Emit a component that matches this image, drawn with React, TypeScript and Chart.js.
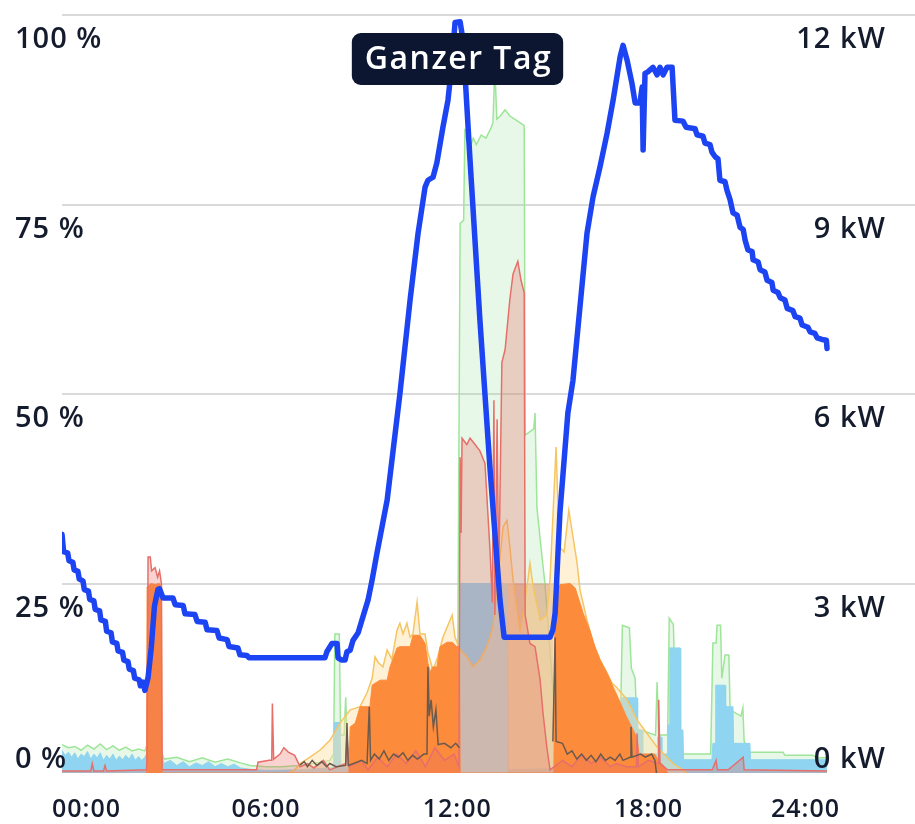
import React, { useEffect, useRef } from "react";
import { Chart, registerables } from "chart.js";

Chart.register(...registerables);

// ---- axis / label data ----
const yPercentTicks = [0, 25, 50, 75, 100];
const yPowerTicks = [0, 3, 6, 9, 12];
const xTickHours = [0, 6, 12, 18, 24];
const xTickLabels = ["00:00", "06:00", "12:00", "18:00", "24:00"];
const badgeText = "Ganzer Tag";
const xMinHour = -0.4;
const xMaxHour = 26.36;
const dataEndHour = 23.6;

// ---- battery state of charge (%) ----
const socHours = [
  -0.40, -0.35, -0.22, -0.18, -0.06, -0.02, 0.10, 0.14, 0.26, 0.30,
  0.43, 0.47, 0.60, 0.64, 0.78, 0.82, 0.96, 1.00, 1.14, 1.18,
  1.32, 1.36, 1.50, 1.54, 1.67, 1.71, 1.84, 1.88, 2.02, 2.06,
  2.14, 2.20, 2.30, 2.40, 2.50, 2.61, 2.66, 2.77, 3.08, 3.15,
  3.40, 3.46, 3.77, 3.84, 4.09, 4.15, 4.46, 4.53, 4.78, 4.84,
  5.12, 5.18, 5.40, 5.47, 7.85, 7.91, 8.07, 8.23, 8.26, 8.38,
  8.48, 8.54, 8.64, 8.73, 8.89, 9.04, 9.20, 9.33, 9.48, 9.64,
  9.80, 10.00, 10.20, 10.52, 10.77, 10.99, 11.08, 11.24, 11.36, 11.55,
  11.71, 11.84, 11.93, 12.09, 12.18, 12.40, 12.71, 13.03, 13.34, 13.47,
  14.91, 15.00, 15.07, 15.22, 15.47, 15.63, 16.07, 16.26, 16.48, 16.70,
  16.89, 17.11, 17.20, 17.33, 17.48, 17.58, 17.73, 17.80, 17.83, 17.89,
  17.98, 18.14, 18.27, 18.36, 18.46, 18.58, 18.74, 18.83, 19.08, 19.18,
  19.46, 19.52, 19.71, 19.77, 19.93, 19.99, 20.09, 20.18, 20.24, 20.40,
  20.46, 20.56, 20.65, 20.78, 20.87, 20.97, 21.03, 21.12, 21.25, 21.28,
  21.44, 21.50, 21.65, 21.72, 21.87, 21.91, 22.06, 22.13, 22.28, 22.35,
  22.53, 22.60, 22.75, 22.82, 23.00, 23.07, 23.22, 23.29, 23.44, 23.58,
  23.60,
];
const socValues = [
  31.5, 29.2, 29.0, 28.0, 27.8, 26.8, 26.6, 25.6, 25.3, 24.2,
  24.0, 22.9, 22.7, 21.6, 21.4, 20.2, 20.0, 18.7, 18.5, 17.3,
  17.1, 16.1, 15.9, 14.9, 14.7, 13.7, 13.5, 12.5, 12.3, 11.5,
  12.0, 10.9, 12.6, 16.5, 22.0, 24.2, 24.3, 23.1, 23.1, 22.2,
  22.1, 21.0, 20.9, 20.0, 19.9, 18.9, 18.8, 17.8, 17.6, 16.7,
  16.5, 15.6, 15.5, 15.2, 15.2, 16.0, 17.1, 17.1, 15.2, 14.9,
  14.9, 16.0, 16.2, 17.5, 18.5, 20.6, 22.8, 25.5, 29.0, 32.5,
  36.0, 43.0, 50.0, 62.4, 71.2, 77.3, 78.2, 78.6, 80.5, 85.2,
  88.8, 94.0, 99.0, 99.1, 96.7, 80.9, 59.8, 40.0, 22.8, 17.9,
  17.9, 18.9, 21.1, 34.3, 47.5, 51.8, 71.2, 76.0, 80.0, 84.4,
  88.8, 94.5, 96.0, 94.0, 91.0, 88.4, 88.4, 90.5, 82.2, 92.3,
  92.5, 93.1, 92.1, 93.1, 92.1, 93.1, 93.1, 86.1, 86.0, 85.2,
  85.0, 84.2, 84.0, 83.1, 82.9, 81.9, 81.3, 81.0, 78.2, 78.0,
  76.9, 75.6, 73.9, 73.6, 72.0, 71.7, 70.3, 69.0, 68.8, 67.7,
  67.4, 66.4, 66.1, 65.0, 64.7, 63.7, 63.4, 62.7, 62.4, 61.3,
  61.0, 60.2, 60.0, 59.1, 58.8, 58.2, 58.0, 57.4, 57.2, 57.1,
  56.0,
];

// ---- green series (kW) ----
const greenHours = [
  -0.40, -0.20, 0.00, 0.20, 0.40, 0.60, 0.80, 1.00, 1.20, 1.40,
  1.60, 1.80, 2.00, 2.20, 2.30, 2.67, 2.80, 3.20, 3.60, 4.00,
  4.40, 4.80, 5.20, 5.50, 6.00, 6.50, 7.00, 7.50, 8.00, 8.12,
  8.16, 8.30, 8.34, 8.45, 8.50, 8.55, 9.00, 10.00, 11.00, 11.20,
  11.24, 11.30, 11.34, 12.00, 12.09, 12.20, 12.24, 12.30, 12.40, 12.50,
  12.60, 12.75, 12.90, 13.05, 13.12, 13.16, 13.20, 13.24, 13.35, 13.50,
  13.65, 13.80, 13.95, 14.10, 14.13, 14.40, 14.44, 14.50, 14.60, 14.75,
  14.90, 15.10, 15.30, 16.50, 17.10, 17.18, 17.40, 17.46, 17.58, 17.64,
  18.22, 18.27, 18.32, 18.60, 18.65, 18.78, 18.84, 18.95, 19.05, 19.95,
  20.02, 20.12, 20.15, 20.26, 20.30, 20.40, 20.52, 20.56, 20.90, 20.96,
  21.00, 21.18, 22.22, 22.28, 23.16, 23.29, 23.60,
];
const greenValues = [
  0.45, 0.40, 0.42, 0.36, 0.44, 0.38, 0.46, 0.37, 0.43, 0.36,
  0.41, 0.35, 0.38, 0.35, 0.50, 0.40, 0.22, 0.25, 0.18, 0.24,
  0.17, 0.22, 0.16, 0.12, 0.10, 0.10, 0.12, 0.15, 0.20, 0.30,
  2.20, 2.20, 0.60, 0.60, 1.20, 0.40, 0.30, 0.30, 0.30, 1.70,
  0.50, 1.60, 0.40, 0.30, 8.70, 8.75, 10.20, 10.00, 9.90, 10.05,
  9.95, 10.10, 10.05, 10.20, 10.30, 10.90, 10.90, 10.35, 10.40, 10.50,
  10.40, 10.35, 10.30, 10.25, 5.35, 5.45, 5.70, 4.20, 3.70, 3.00,
  2.00, 0.60, 0.30, 0.30, 0.35, 2.34, 2.30, 1.66, 1.50, 0.70,
  0.60, 1.44, 0.60, 0.60, 2.45, 2.35, 1.20, 0.73, 0.30, 0.30,
  2.06, 2.06, 2.34, 2.34, 1.50, 1.87, 1.87, 1.00, 0.90, 1.03,
  0.50, 0.33, 0.33, 0.28, 0.28, 0.24, 0.24,
];

// ---- light blue series (kW) ----
const blueHours = [
  -0.40, -0.30, -0.20, -0.10, 0.00, 0.10, 0.20, 0.30, 0.40, 0.50,
  0.60, 0.70, 0.80, 0.90, 1.00, 1.10, 1.20, 1.30, 1.40, 1.50,
  1.60, 1.70, 1.80, 1.90, 2.00, 2.10, 2.20, 2.35, 2.50, 2.67,
  2.80, 3.00, 3.20, 3.40, 3.60, 3.80, 4.00, 4.20, 4.40, 4.60,
  4.80, 5.00, 5.20, 5.50, 6.00, 7.00, 8.00, 8.12, 8.14, 8.32,
  8.35, 9.00, 12.05, 12.09, 13.58, 13.60, 17.10, 17.14, 17.64, 17.66,
  17.80, 17.82, 18.27, 18.29, 18.40, 18.42, 18.58, 18.60, 18.65, 18.67,
  18.99, 19.01, 19.08, 19.10, 19.99, 20.02, 20.09, 20.11, 20.40, 20.42,
  20.65, 20.67, 21.18, 21.20, 23.60,
];
const blueValues = [
  0.36, 0.28, 0.33, 0.25, 0.32, 0.22, 0.30, 0.26, 0.34, 0.22,
  0.30, 0.24, 0.32, 0.20, 0.28, 0.22, 0.30, 0.20, 0.27, 0.21,
  0.28, 0.22, 0.30, 0.20, 0.26, 0.20, 0.25, 0.40, 0.30, 0.35,
  0.15, 0.20, 0.12, 0.18, 0.10, 0.16, 0.12, 0.18, 0.10, 0.15,
  0.10, 0.14, 0.08, 0.06, 0.04, 0.05, 0.08, 0.10, 0.80, 0.80,
  0.10, 0.05, 0.05, 3.00, 3.00, 0.05, 0.10, 1.19, 1.19, 0.68,
  0.68, 0.30, 0.30, 0.57, 0.57, 0.30, 0.30, 0.76, 0.76, 1.98,
  1.98, 0.68, 0.68, 0.21, 0.21, 0.47, 0.47, 1.39, 1.39, 1.05,
  1.05, 0.47, 0.47, 0.21, 0.21,
];

// ---- tan block (kW) ----
const tanHours = [13.57, 13.58, 15.02, 15.03];
const tanValues = [0, 3.0, 3.0, 0];

// ---- yellow series (kW) ----
const yellowHours = [
  6.70, 6.90, 7.07, 7.38, 7.69, 8.01, 8.32, 8.64, 8.95, 9.17,
  9.33, 9.42, 9.52, 9.67, 9.80, 9.95, 10.11, 10.20, 10.30, 10.42,
  10.52, 10.61, 10.74, 10.83, 10.99, 11.08, 11.24, 11.39, 11.55, 11.84,
  11.93, 12.09, 12.30, 12.49, 12.71, 12.93, 13.12, 13.34, 13.44, 13.56,
  13.65, 13.75, 13.97, 14.19, 14.28, 14.38, 14.60, 14.81, 14.91, 15.10,
  15.20, 15.35, 15.50, 15.63, 15.76, 15.85, 16.07, 16.26, 16.48, 16.70,
  16.86, 17.01, 17.33, 17.64, 17.95, 18.27, 18.58, 18.77, 19.08, 19.20,
];
const yellowValues = [
  0, 0.05, 0.15, 0.25, 0.36, 0.52, 0.79, 1.00, 1.05, 1.27,
  1.50, 1.84, 1.75, 1.68, 1.95, 1.80, 2.26, 2.37, 2.20, 2.37,
  2.15, 2.20, 2.71, 2.20, 2.20, 1.90, 1.63, 1.84, 2.15, 2.50,
  2.15, 1.95, 1.84, 1.68, 1.79, 2.00, 2.31, 3.42, 3.90, 4.00,
  3.58, 3.06, 2.26, 2.95, 3.32, 2.95, 2.42, 2.50, 3.06, 5.16,
  3.58, 3.50, 4.16, 3.74, 3.32, 2.90, 2.42, 2.06, 1.79, 1.58,
  1.42, 1.35, 1.16, 0.84, 0.63, 0.41, 0.25, 0.15, 0.05, 0,
];

// ---- orange series (kW) ----
const orangeHours = [
  2.25, 2.27, 2.40, 2.52, 2.65, 2.72, 2.74, 8.60, 8.64, 8.80,
  8.95, 9.26, 9.33, 9.42, 9.58, 9.80, 9.89, 10.11, 10.20, 10.52,
  10.61, 10.83, 10.99, 11.08, 11.15, 11.24, 11.36, 11.46, 11.68, 11.84,
  11.99, 12.07, 12.09, 15.03, 15.07, 15.22, 15.54, 15.70, 15.85, 15.95,
  16.16, 16.32, 16.48, 16.70, 16.89, 17.11, 17.30, 17.50, 17.64, 17.70,
  18.20, 18.30, 18.50, 18.60,
];
const orangeValues = [
  0, 2.95, 3.00, 2.98, 3.00, 2.95, 0, 0, 0.73, 0.79,
  1.05, 1.05, 1.39, 1.42, 1.47, 1.47, 1.68, 1.98, 2.00, 2.00,
  2.18, 2.18, 2.05, 1.74, 1.60, 1.68, 1.68, 2.00, 2.07, 2.07,
  2.00, 2.00, 0, 0, 2.90, 2.98, 3.00, 2.93, 2.69, 2.53,
  2.26, 2.00, 1.79, 1.58, 1.36, 1.12, 0.90, 0.70, 0.55, 0.30,
  0.30, 0.20, 0.10, 0,
];

// ---- red series (kW) ----
const redHours = [
  -0.40, 0.50, 0.55, 0.60, 0.90, 0.95, 1.00, 2.25, 2.27, 2.30,
  2.37, 2.41, 2.52, 2.60, 2.66, 2.72, 2.74, 3.50, 5.70, 5.75,
  6.10, 6.18, 6.20, 6.24, 6.44, 6.56, 6.70, 6.90, 7.07, 7.30,
  7.50, 7.80, 8.00, 8.50, 8.54, 8.60, 9.00, 9.20, 9.50, 9.80,
  10.10, 10.40, 10.70, 11.00, 11.30, 11.60, 11.90, 12.05, 12.09, 12.12,
  12.15, 12.30, 12.40, 12.56, 12.71, 12.87, 13.03, 13.10, 13.15, 13.18,
  13.25, 13.30, 13.40, 13.50, 13.65, 13.75, 13.90, 14.00, 14.10, 14.13,
  14.28, 14.44, 14.60, 14.69, 14.81, 14.91, 15.30, 15.60, 15.90, 16.20,
  16.50, 16.80, 17.00, 17.30, 17.62, 17.64, 17.68, 18.00, 18.30, 18.32,
  18.36, 18.60, 20.00, 20.12, 20.16, 20.50, 20.97, 21.00, 23.60,
];
const redValues = [
  0.03, 0.03, 0.15, 0.03, 0.03, 0.12, 0.03, 0.05, 0.30, 3.42,
  3.42, 3.20, 3.25, 3.10, 3.20, 3.00, 0.05, 0.05, 0.05, 0.17,
  0.20, 0.20, 1.10, 0.22, 0.30, 0.40, 0.33, 0.28, 0.10, 0.15,
  0.08, 0.20, 0.05, 0.15, 0.60, 0.10, 0.20, 0.05, 0.25, 0.10,
  0.30, 0.15, 0.35, 0.10, 0.40, 0.20, 0.30, 0.10, 5.00, 3.80,
  5.30, 5.20, 5.30, 5.20, 5.10, 4.90, 3.50, 2.70, 5.90, 2.50,
  5.60, 3.00, 6.50, 6.70, 7.50, 7.90, 8.10, 7.80, 7.60, 2.50,
  2.05, 2.00, 1.47, 0.95, 0.41, 0.05, 0.20, 0.10, 0.30, 0.15,
  0.25, 0.10, 0.15, 0.10, 0.10, 0.63, 0.10, 0.20, 0.15, 1.16,
  0.15, 0.05, 0.05, 0.20, 0.05, 0.05, 0.25, 0.05, 0.03,
];

// ---- dark series (kW) ----
const darkHours = [
  7.07, 7.20, 7.30, 7.45, 7.60, 7.75, 7.90, 8.00, 8.20, 8.50,
  8.54, 8.58, 8.85, 9.00, 9.17, 9.24, 9.28, 9.40, 9.55, 9.70,
  9.85, 10.00, 10.15, 10.30, 10.45, 10.60, 10.75, 10.95, 11.05, 11.08,
  11.12, 11.18, 11.25, 11.33, 11.40, 11.60, 11.80, 11.95, 12.07, 12.09,
  14.95, 15.00, 15.07, 15.10, 15.30, 15.45, 15.60, 15.75, 15.90, 16.05,
  16.20, 16.35, 16.50, 16.65, 16.80, 16.95, 17.10, 17.20, 17.42, 17.45,
  17.48, 17.75, 17.90, 18.10, 18.20, 18.25,
];
const darkValues = [
  0.13, 0.18, 0.10, 0.20, 0.12, 0.18, 0.10, 0.15, 0.10, 0.12,
  0.79, 0.12, 0.17, 0.20, 0.15, 1.05, 0.20, 0.30, 0.22, 0.35,
  0.20, 0.30, 0.25, 0.32, 0.20, 0.28, 0.22, 0.30, 0.30, 1.68,
  0.90, 1.16, 0.73, 1.00, 0.45, 0.47, 0.40, 0.47, 0.40, null,
  null, 0.50, 2.15, 0.50, 0.47, 0.30, 0.35, 0.22, 0.30, 0.20,
  0.28, 0.18, 0.30, 0.20, 0.25, 0.20, 0.30, 0.20, 0.25, 0.73,
  0.25, 0.30, 0.25, 0.30, 0.20, 0,
];

function toPoints(hours: number[], values: (number | null)[]) {
  return hours.map((h, i) => ({ x: h, y: values[i] }));
}

const LABEL_FONT = "'Open Sans', Lato, sans-serif";
const TEXT_COLOR = "#141b2d";

const overlayPlugin = {
  id: "overlay",
  beforeDatasetsDraw(chart: any) {
    const { ctx, chartArea } = chart;
    const yScale = chart.scales.yPct;
    ctx.save();
    ctx.strokeStyle = "#dadada";
    ctx.lineWidth = 2;
    for (const v of yPercentTicks) {
      if (v === 0) continue;
      const py = Math.round(yScale.getPixelForValue(v));
      ctx.beginPath();
      ctx.moveTo(chartArea.left, py);
      ctx.lineTo(chartArea.right, py);
      ctx.stroke();
    }
    ctx.restore();
  },
  afterDraw(chart: any) {
    const { ctx, chartArea } = chart;
    const yPct = chart.scales.yPct;
    const yKw = chart.scales.yKw;
    const xs = chart.scales.x;
    ctx.save();
    // y labels
    ctx.fillStyle = TEXT_COLOR;
    ctx.font = `600 29px ${LABEL_FONT}`;
    (ctx as any).letterSpacing = "1px";
    ctx.textBaseline = "middle";
    yPercentTicks.forEach((v) => {
      const py = Math.min(yPct.getPixelForValue(v) + 25, chartArea.bottom - 13);
      ctx.textAlign = "left";
      ctx.fillText(`${v} %`, 15, py);
    });
    yPowerTicks.forEach((v) => {
      const py = Math.min(yKw.getPixelForValue(v) + 25, chartArea.bottom - 13);
      ctx.textAlign = "right";
      ctx.fillText(`${v} kW`, 886, py);
    });
    // x labels
    ctx.font = `600 25px ${LABEL_FONT}`;
    ctx.textAlign = "center";
    const endPx = xs.getPixelForValue(dataEndHour);
    xTickHours.forEach((h, i) => {
      const label = xTickLabels[i];
      const w = ctx.measureText(label).width;
      let px = xs.getPixelForValue(h);
      px = Math.max(px, chartArea.left + w / 2 - 10);
      px = Math.min(px, endPx - w / 2 + 13);
      ctx.fillText(label, px, 810);
    });
    // badge
    ctx.font = `600 32px ${LABEL_FONT}`;
    (ctx as any).letterSpacing = "1.5px";
    const tw = ctx.measureText(badgeText).width;
    const bw = tw + 24;
    const bh = 52;
    const bx = chart.width / 2 - bw / 2;
    const by = 33;
    ctx.fillStyle = "#0c1631";
    ctx.beginPath();
    (ctx as any).roundRect(bx, by, bw, bh, 9);
    ctx.fill();
    ctx.fillStyle = "#ffffff";
    ctx.textAlign = "center";
    ctx.fillText(badgeText, chart.width / 2 + 1, by + bh / 2 + 1);
    ctx.restore();
  },
};

export default function App() {
  const canvasRef = useRef<HTMLCanvasElement | null>(null);

  useEffect(() => {
    const canvas = canvasRef.current;
    if (!canvas) return;
    const common = { pointRadius: 0, pointHoverRadius: 0, tension: 0, fill: "origin" as const };
    const chart = new Chart(canvas, {
      type: "line",
      data: {
        datasets: [
          {
            label: "Ladezustand",
            data: toPoints(socHours, socValues),
            yAxisID: "yPct",
            borderColor: "#1d44f2",
            borderWidth: 5.5,
            borderJoinStyle: "round",
            borderCapStyle: "round",
            pointRadius: 0,
            tension: 0,
            fill: false,
          },
          {
            label: "dunkel",
            data: toPoints(darkHours, darkValues),
            yAxisID: "yKw",
            borderColor: "#6b5a4d",
            borderWidth: 1.5,
            pointRadius: 0,
            tension: 0,
            fill: false,
            spanGaps: false,
          },
          {
            label: "rot",
            data: toPoints(redHours, redValues),
            yAxisID: "yKw",
            borderColor: "#e76f6a",
            backgroundColor: "rgba(232,110,100,0.3)",
            borderWidth: 1.5,
            ...common,
          },
          {
            label: "orange",
            data: toPoints(orangeHours, orangeValues),
            yAxisID: "yKw",
            borderColor: "#fd8b3c",
            backgroundColor: "#fd8b3c",
            borderWidth: 1,
            ...common,
          },
          {
            label: "gelb",
            data: toPoints(yellowHours, yellowValues),
            yAxisID: "yKw",
            borderColor: "#f5c563",
            backgroundColor: "rgba(252,225,165,0.45)",
            borderWidth: 1.5,
            ...common,
          },
          {
            label: "beige",
            data: toPoints(tanHours, tanValues),
            yAxisID: "yKw",
            borderColor: "rgba(0,0,0,0)",
            backgroundColor: "rgba(215,150,110,0.55)",
            borderWidth: 0,
            ...common,
          },
          {
            label: "hellblau",
            data: toPoints(blueHours, blueValues),
            yAxisID: "yKw",
            borderColor: "#8fd4ef",
            backgroundColor: "rgba(143,212,240,1)",
            borderWidth: 1,
            ...common,
          },
          {
            label: "grün",
            data: toPoints(greenHours, greenValues),
            yAxisID: "yKw",
            borderColor: "#9ee59a",
            backgroundColor: "rgba(150,225,150,0.22)",
            borderWidth: 1.5,
            ...common,
          },
        ],
      },
      options: {
        animation: false,
        responsive: true,
        maintainAspectRatio: false,
        devicePixelRatio: 1,
        layout: { padding: { left: 62, right: 0, top: 15, bottom: 51 } },
        plugins: { legend: { display: false }, tooltip: { enabled: false } },
        scales: {
          x: { type: "linear", min: xMinHour, max: xMaxHour, display: false },
          yPct: { type: "linear", position: "left", min: 0, max: 100, display: false },
          yKw: { type: "linear", position: "right", min: 0, max: 12, display: false },
        },
      },
      plugins: [overlayPlugin],
    } as any);
    return () => chart.destroy();
  }, []);

  return (
    <div style={{ position: "fixed", left: 0, top: 0, width: 915, height: 824, background: "#fff" }}>
      <canvas ref={canvasRef} />
    </div>
  );
}
